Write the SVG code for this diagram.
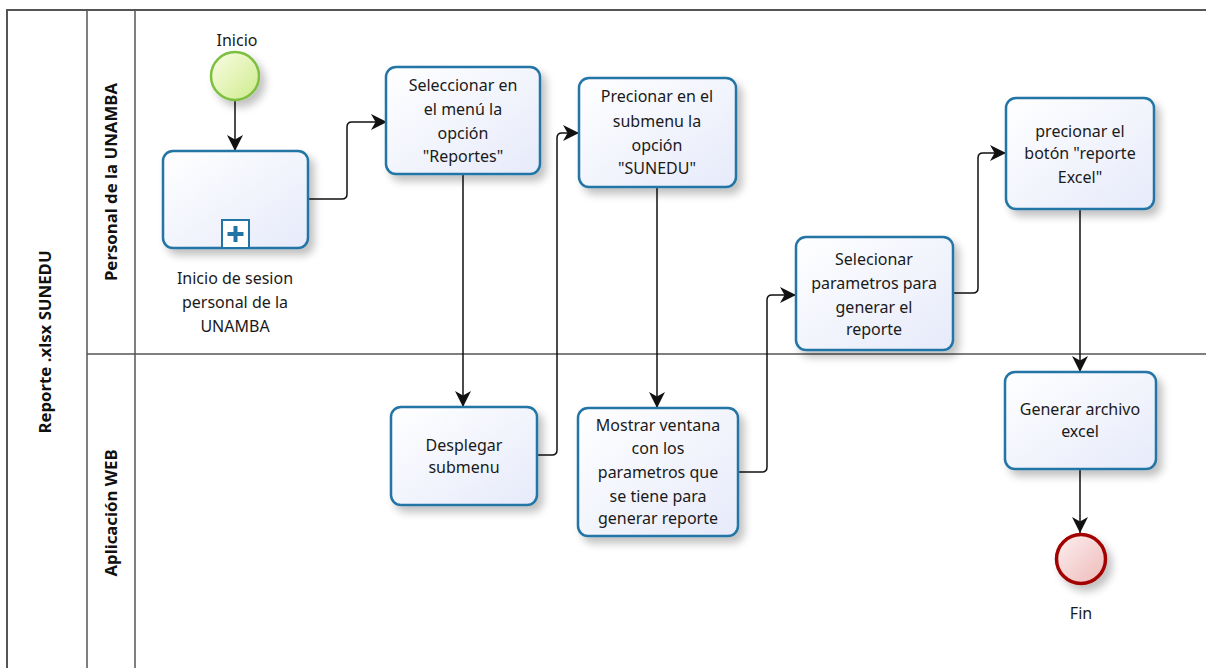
<svg xmlns="http://www.w3.org/2000/svg" width="1206" height="668" viewBox="0 0 1206 668">
<style>
.pool{fill:none;stroke:#555;stroke-width:1.5}
.task{stroke:#2274a5;stroke-width:2.5;fill:url(#gTask)}
.t{font-family:"Noto Sans","Open Sans",sans-serif;font-size:16px;fill:#1a1a1a;text-anchor:middle}
.lane{font-family:"Noto Sans","Open Sans",sans-serif;font-size:16.8px;font-weight:bold;fill:#111;text-anchor:middle}
.conn{fill:none;stroke:#111;stroke-width:1.5;marker-end:url(#arr)}
</style>
<defs>
<linearGradient id="gTask" x1="0" y1="0" x2="1" y2="1">
<stop offset="0" stop-color="#ffffff"/><stop offset="1" stop-color="#e6eafa"/>
</linearGradient>
<linearGradient id="gStart" x1="0" y1="0" x2="1" y2="1">
<stop offset="0" stop-color="#fbfde6"/><stop offset="1" stop-color="#cdeb8b"/>
</linearGradient>
<linearGradient id="gEnd" x1="0" y1="0" x2="1" y2="1">
<stop offset="0" stop-color="#fdf0f0"/><stop offset="1" stop-color="#eeb9b9"/>
</linearGradient>
<filter id="sh" x="-20%" y="-20%" width="150%" height="150%">
<feGaussianBlur in="SourceAlpha" stdDeviation="4"/>
<feOffset dx="5" dy="6" result="b"/>
<feComponentTransfer><feFuncA type="linear" slope="0.25"/></feComponentTransfer>
<feMerge><feMergeNode/><feMergeNode in="SourceGraphic"/></feMerge>
</filter>
<marker id="arr" markerUnits="userSpaceOnUse" markerWidth="16" markerHeight="16" viewBox="0 0 14 14" refX="14" refY="7" orient="auto">
<path d="M0,0 L14,7 L0,14 L4,7 z" fill="#111"/>
</marker>
</defs>
<rect width="1206" height="668" fill="#fff"/>
<g id="pool">
<path class="pool" d="M7,668 V10 H1206" style="stroke-width:2"/>
<line class="pool" x1="87" y1="10" x2="87" y2="668"/>
<line class="pool" x1="135" y1="10" x2="135" y2="668"/>
<line class="pool" x1="87" y1="354" x2="1206" y2="354"/>
<text class="lane" transform="translate(51,342) rotate(-90)">Reporte .xlsx SUNEDU</text>
<text class="lane" transform="translate(117,182) rotate(-90)">Personal de la UNAMBA</text>
<text class="lane" transform="translate(117,513) rotate(-90)">Aplicación WEB</text>
</g>
<g id="connectors">
<path class="conn" d="M235,100 V151"/>
<path class="conn" d="M308,199 H342 Q347,199 347,194 V127 Q347,122 352,122 H387"/>
<path class="conn" d="M463,174 V407"/>
<path class="conn" d="M537,455 H552 Q557,455 557,450 V138 Q557,133 562,133 H579"/>
<path class="conn" d="M657,187 V408"/>
<path class="conn" d="M738,472 H762 Q767,472 767,467 V300 Q767,295 772,295 H796"/>
<path class="conn" d="M953,293 H973 Q978,293 978,288 V158 Q978,153 983,153 H1006"/>
<path class="conn" d="M1080,209 V372"/>
<path class="conn" d="M1080,469 V533"/>
</g>
<g id="inicio">
<circle cx="235" cy="76" r="24" fill="url(#gStart)" stroke="#7dbf3f" stroke-width="2.5" filter="url(#sh)"/>
<text class="t" x="237" y="46">Inicio</text>
</g>
<g id="sesion">
<rect class="task" x="163" y="151" width="145" height="97" rx="10" filter="url(#sh)"/>
<rect x="222" y="220" width="27" height="28" fill="#fff" stroke="#2274a5" stroke-width="2"/>
<path d="M235.5,226 V242 M227.5,234 H243.5" stroke="#2274a5" stroke-width="4"/>
<text class="t" x="235" y="284">Inicio de sesion</text>
<text class="t" x="235" y="308">personal de la</text>
<text class="t" x="235" y="332">UNAMBA</text>
</g>
<g id="seleccionar">
<rect class="task" x="386" y="67" width="154" height="107" rx="10" filter="url(#sh)"/>
<text class="t" x="463" y="91">Seleccionar en</text>
<text class="t" x="463" y="115">el menú la</text>
<text class="t" x="463" y="139">opción</text>
<text class="t" x="463" y="162">"Reportes"</text>
</g>
<g id="desplegar">
<rect class="task" x="391" y="407" width="146" height="98" rx="10" filter="url(#sh)"/>
<text class="t" x="464" y="451">Desplegar</text>
<text class="t" x="464" y="473">submenu</text>
</g>
<g id="precionar">
<rect class="task" x="579" y="78" width="157" height="109" rx="10" filter="url(#sh)"/>
<text class="t" x="657" y="102">Precionar en el</text>
<text class="t" x="657" y="127">submenu la</text>
<text class="t" x="657" y="151">opción</text>
<text class="t" x="657" y="174">"SUNEDU"</text>
</g>
<g id="mostrar">
<rect class="task" x="578" y="408" width="160" height="128" rx="10" filter="url(#sh)"/>
<text class="t" x="658" y="431">Mostrar ventana</text>
<text class="t" x="658" y="454">con los</text>
<text class="t" x="658" y="478">parametros que</text>
<text class="t" x="658" y="502">se tiene para</text>
<text class="t" x="658" y="524">generar reporte</text>
</g>
<g id="selecionar">
<rect class="task" x="796" y="237" width="157" height="113" rx="10" filter="url(#sh)"/>
<text class="t" x="874" y="265">Selecionar</text>
<text class="t" x="874" y="289">parametros para</text>
<text class="t" x="874" y="313">generar el</text>
<text class="t" x="874" y="335">reporte</text>
</g>
<g id="boton">
<rect class="task" x="1006" y="98" width="148" height="111" rx="10" filter="url(#sh)"/>
<text class="t" x="1080" y="137">precionar el</text>
<text class="t" x="1080" y="159">botón "reporte</text>
<text class="t" x="1080" y="183">Excel"</text>
</g>
<g id="generar">
<rect class="task" x="1005" y="372" width="151" height="97" rx="10" filter="url(#sh)"/>
<text class="t" x="1080" y="415">Generar archivo</text>
<text class="t" x="1080" y="437">excel</text>
</g>
<g id="fin">
<circle cx="1081" cy="559" r="24.5" fill="url(#gEnd)" stroke="#a30000" stroke-width="3.5" filter="url(#sh)"/>
<text class="t" x="1081" y="619">Fin</text>
</g>
</svg>
